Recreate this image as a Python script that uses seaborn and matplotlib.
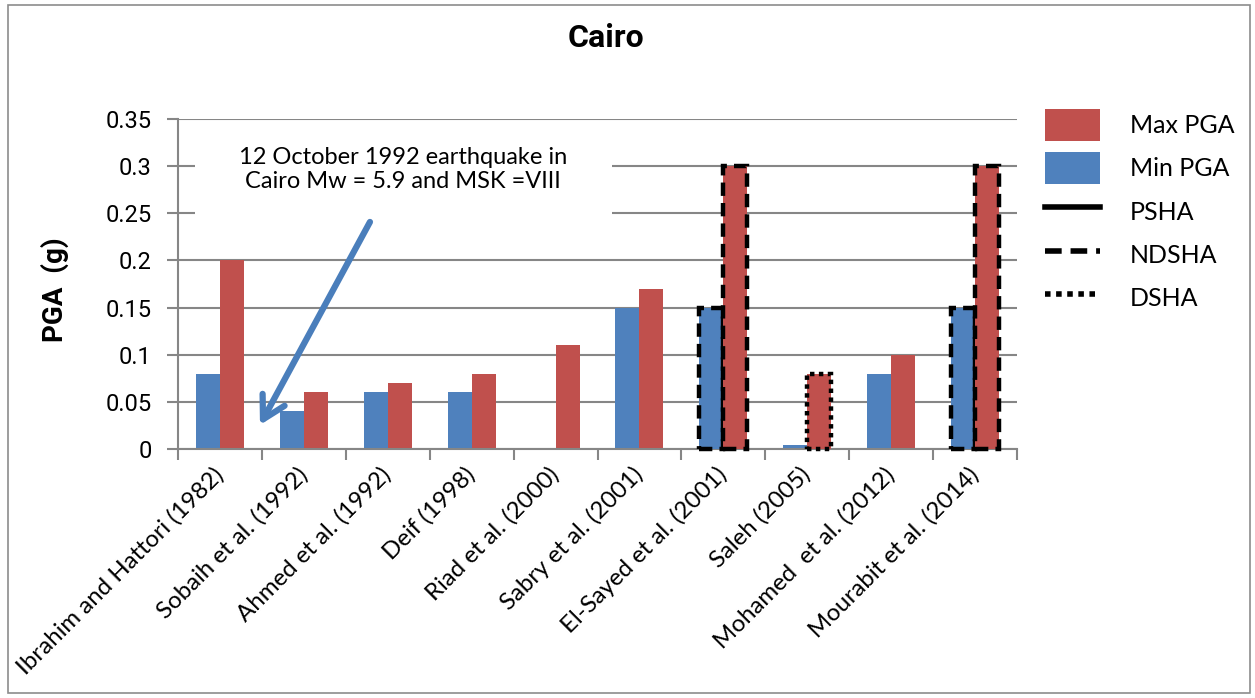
import matplotlib
matplotlib.use("Agg")
import matplotlib.pyplot as plt
from matplotlib.patches import Patch, Rectangle
from matplotlib.lines import Line2D
import seaborn as sns
import pandas as pd

# Studies of peak ground acceleration for Cairo
studies = [
    "Ibrahim and Hattori (1982)",
    "Sobaih et al. (1992)",
    "Ahmed et al. (1992)",
    "Deif (1998)",
    "Riad et al. (2000)",
    "Sabry et al. (2001)",
    "El-Sayed et al. (2001)",
    "Saleh (2005)",
    "Mohamed  et al. (2012)",
    "Mourabit et al. (2014)",
]
min_pga = [0.08, 0.04, 0.06, 0.06, 0.0, 0.15, 0.15, 0.004, 0.08, 0.15]
max_pga = [0.20, 0.06, 0.07, 0.08, 0.11, 0.17, 0.30, 0.08, 0.10, 0.30]

# Hazard method outlining each bar (None = no outline)
min_method = [None, None, None, None, None, None, "NDSHA", None, None, "NDSHA"]
max_method = [None, None, None, None, None, None, "NDSHA", "DSHA", None, "NDSHA"]

y_ticks = [0, 0.05, 0.1, 0.15, 0.2, 0.25, 0.3, 0.35]
y_tick_labels = ["0", "0.05", "0.1", "0.15", "0.2", "0.25", "0.3", "0.35"]

series_names = ["Min PGA", "Max PGA"]
colors = {"Min PGA": "#4F81BD", "Max PGA": "#C0504D"}
method_styles = {
    "PSHA": "-",
    "NDSHA": (0, (3, 1.6)),
    "DSHA": (0, (1, 1)),
}

df = pd.DataFrame({
    "study": studies * 2,
    "series": ["Min PGA"] * len(studies) + ["Max PGA"] * len(studies),
    "pga": min_pga + max_pga,
})

W, H = 1255, 698
fig = plt.figure(figsize=(W / 100, H / 100), dpi=100)
ax = fig.add_axes([178 / W, 1 - 449 / H, (1017 - 178) / W, (449 - 119) / H])

sns.barplot(data=df, x="study", y="pga", hue="series", order=studies,
            hue_order=series_names, palette=colors, saturation=1,
            width=0.572, gap=0, linewidth=0, errorbar=None, legend=False,
            ax=ax, zorder=2)

# Outline bars with their hazard-method line style
for container, methods in zip(ax.containers, [min_method, max_method]):
    for bar, m in zip(container, methods):
        if m is not None:
            bar.set_edgecolor("black")
            bar.set_linewidth(3.2)
            bar.set_linestyle(method_styles[m])
            bar.set_clip_on(False)
            bar.set_zorder(3)

grid_c = "#868686"
ax.set_xlim(-0.5, len(studies) - 0.5)
ax.set_ylim(0, 0.35)
ax.set_yticks(y_ticks)
ax.set_yticklabels(y_tick_labels, fontfamily="Roboto", fontsize=17)
ax.yaxis.grid(True, color=grid_c, linewidth=1.5)
ax.set_axisbelow(True)
for s in ["top", "right"]:
    ax.spines[s].set_visible(False)
for s in ["left", "bottom"]:
    ax.spines[s].set_color(grid_c)
    ax.spines[s].set_linewidth(1.5)
ax.tick_params(axis="y", length=8, width=1.5, color=grid_c, pad=11)

# Category ticks sit on the boundaries between studies
ax.set_xticks([i - 0.5 for i in range(len(studies) + 1)], minor=True)
ax.tick_params(axis="x", which="minor", length=8, width=1.5, color=grid_c)
ax.tick_params(axis="x", which="major", length=0, pad=16)
ax.set_xticks(range(len(studies)))
ax.set_xticklabels(studies, rotation=45, ha="right", va="center",
                   rotation_mode="anchor", fontfamily="Lato", fontsize=17.3)
ax.set_xlabel("")
ax.set_ylabel("")

fig.text(55 / W, 1 - 290 / H, "PGA  (g)", rotation=90, ha="center", va="center",
         fontfamily="Roboto", fontweight="bold", fontsize=20)
fig.text(606 / W, 1 - 38 / H, "Cairo", ha="center", va="center",
         fontfamily="Roboto", fontweight="bold", fontsize=23)

# Note about the 1992 earthquake, on a white panel over the gridlines
ax.add_patch(Rectangle((0.0203, 0.688), 0.497, 0.2635, transform=ax.transAxes,
                       facecolor="white", edgecolor="none", zorder=3.5))
ax.text(2.18, 0.2965, "12 October 1992 earthquake in\nCairo Mw = 5.9 and MSK =VIII",
        ha="center", va="center", fontfamily="Lato", fontsize=17, linespacing=1.2,
        zorder=4)
ax.annotate("", xy=(0.477, 0.0255), xytext=(1.788, 0.2408),
            arrowprops=dict(arrowstyle="->,head_length=0.8,head_width=0.45",
                            lw=4.5, color="#4A7EBB", mutation_scale=20,
                            shrinkA=0, shrinkB=0), zorder=5)

handles = [
    Patch(facecolor=colors["Max PGA"], label="Max PGA"),
    Patch(facecolor=colors["Min PGA"], label="Min PGA"),
    Line2D([], [], color="black", lw=4, linestyle=method_styles["PSHA"], label="PSHA"),
    Line2D([], [], color="black", lw=4, linestyle=method_styles["NDSHA"], label="NDSHA"),
    Line2D([], [], color="black", lw=4, linestyle=method_styles["DSHA"], label="DSHA"),
]
fig.legend(handles=handles, loc="upper left", bbox_to_anchor=(1022 / W, 1 - 86 / H),
           frameon=False, prop={"family": "Lato", "size": 18},
           handlelength=2.2, handleheight=1.6, labelspacing=0.45, handletextpad=1.2)

fig.add_artist(Rectangle((8 / W, 1 - 693 / H), (1250 - 8) / W, (693 - 5) / H,
                         transform=fig.transFigure, fill=False,
                         edgecolor="#8c8c8c", linewidth=1.2))

fig.savefig("out.png", dpi=100, facecolor="white")
